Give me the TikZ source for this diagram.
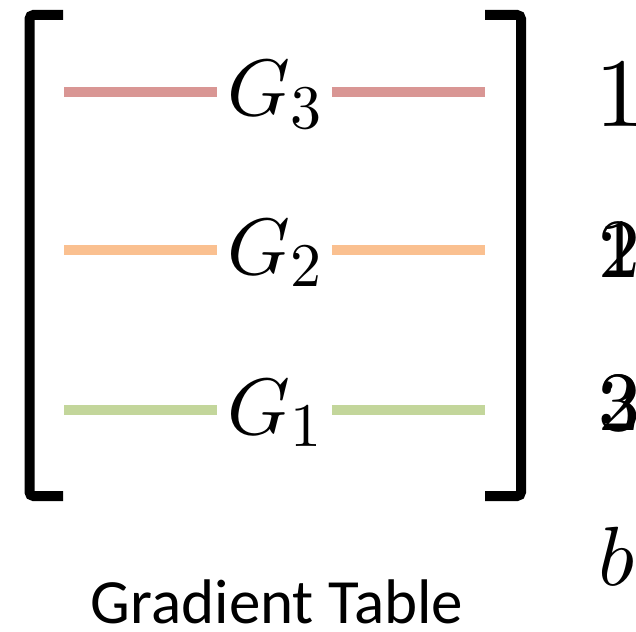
\documentclass[tikz,border=0pt]{standalone}
\usepackage[no-math]{fontspec}
\usepackage{tikz}
\usetikzlibrary{positioning, calc}
\newfontfamily\tablefont{Carlito}
%% scalable 10pt-design math fonts
\DeclareFontFamily{OT1}{bigcmr}{\hyphenchar\font45}
\DeclareFontShape{OT1}{bigcmr}{m}{n}{<->cmr10}{}
\DeclareFontFamily{OML}{bigcmm}{\skewchar\font127}
\DeclareFontShape{OML}{bigcmm}{m}{it}{<->cmmi10}{}
\DeclareFontFamily{OMS}{bigcmsy}{\skewchar\font48}
\DeclareFontShape{OMS}{bigcmsy}{m}{n}{<->cmsy10}{}
\DeclareSymbolFont{operators}{OT1}{bigcmr}{m}{n}
\DeclareSymbolFont{letters}{OML}{bigcmm}{m}{it}
\DeclareSymbolFont{symbols}{OMS}{bigcmsy}{m}{n}
\DeclareMathSizes{80}{80}{62}{50}
\DeclareMathSizes{84}{84}{62}{50}
\DeclareMathSizes{98}{98}{62}{50}
\definecolor{gradred}{RGB}{217,150,148}
\definecolor{gradorange}{RGB}{250,192,144}
\definecolor{gradgreen}{RGB}{195,214,155}

\begin{document}
\begin{tikzpicture}[x=1pt, y=-1pt,
    brack/.style={line width=10pt, rounded corners=4pt},
    gline/.style={line width=10pt},
    glbl/.style={anchor=base, inner sep=10pt, font=\fontsize{80}{96}\selectfont},
    idx/.style={anchor=base west, inner sep=0pt, font=\fontsize{84}{96}\selectfont},
    caplbl/.style={anchor=base, inner sep=0pt, text depth=0pt,
                   font=\tablefont\fontsize{63}{74}\selectfont}]

\useasboundingbox (0,0) rectangle (636,631);

%% ── Brackets ─────────────────────────────────────────────────────────────────
\draw[brack] (63,15) -- (29.5,15) -- (29.5,496) -- (63,496);
\draw[brack] (485,15) -- (521,15) -- (521,496) -- (485,496);

%% ── Gradient rows ────────────────────────────────────────────────────────────
\node[glbl] (g3) at (274.5,116) {$G_3$};
\node[glbl] (g2) at (274.5,274) {$G_2$};
\node[glbl] (g1) at (274.5,434) {$G_1$};

\coordinate (a3) at (64,92);   \coordinate (b3) at (485,92);
\coordinate (a2) at (64,250);  \coordinate (b2) at (485,250);
\coordinate (a1) at (64,410);  \coordinate (b1) at (485,410);

\draw[gline, gradred]    (a3) -- (a3 -| g3.west);
\draw[gline, gradred]    (g3.east |- b3) -- (b3);
\draw[gline, gradorange] (a2) -- (a2 -| g2.west);
\draw[gline, gradorange] (g2.east |- b2) -- (b2);
\draw[gline, gradgreen]  (a1) -- (a1 -| g1.west);
\draw[gline, gradgreen]  (g1.east |- b1) -- (b1);

%% ── Indices on the right ─────────────────────────────────────────────────────
\node[idx, font=\fontsize{98}{110}\selectfont] (i1) at (595,127) {$1$};
\node[idx] (i2)  at (598,277) {$2$};
\node[idx] (i2b) at (598,277) {$1$};
\node[idx] (i3)  at (598,430) {$3$};
\node[idx] (i3b) at (598,430) {$2$};
\node[idx] (ib)  at (598,585) {$b$};

%% ── Caption ──────────────────────────────────────────────────────────────────
\node[caplbl] (title) at (277,623) {Gradient Table};

\end{tikzpicture}
\end{document}
